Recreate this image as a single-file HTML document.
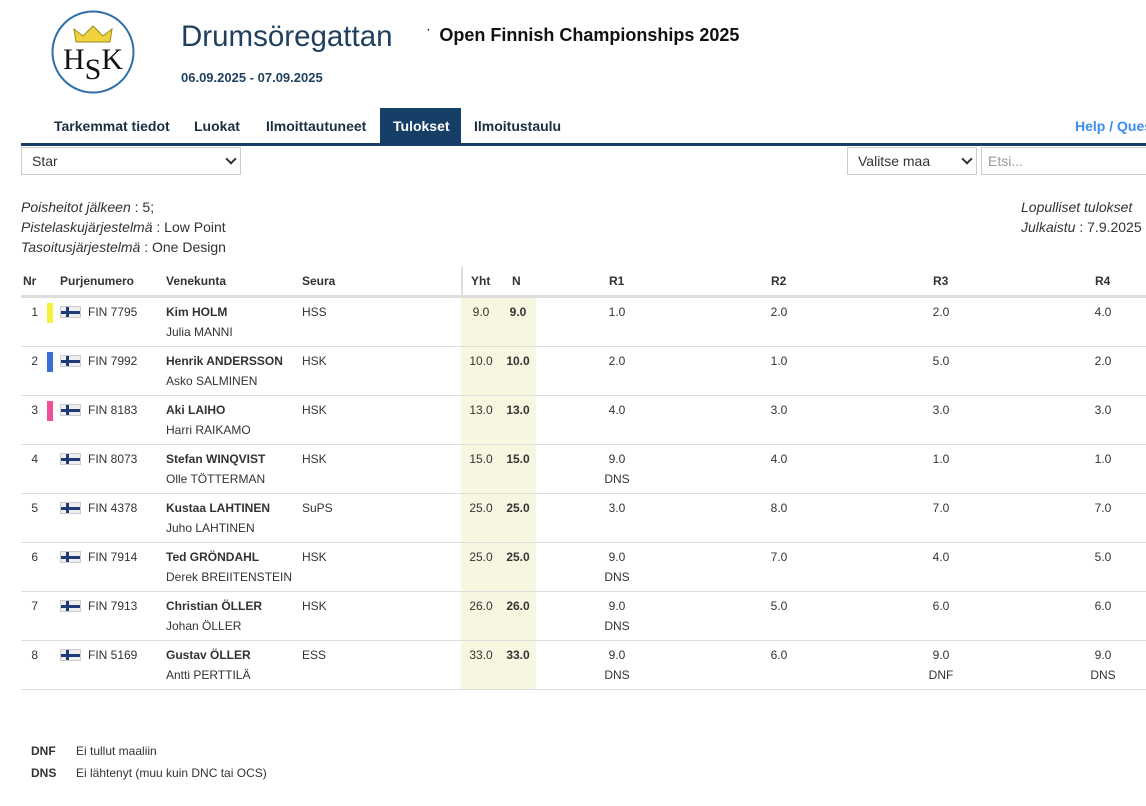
<!DOCTYPE html>
<html><head><meta charset="utf-8">
<style>
body{margin:0;width:1146px;height:806px;overflow:hidden;background:#fff;font-family:"Liberation Sans",sans-serif;color:#333;position:relative}
.a{position:absolute;white-space:nowrap}
.nav{position:absolute;top:108px;height:36px;line-height:36px;font-size:14px;font-weight:bold;color:#1a2e44;padding:0 13px;white-space:nowrap}
.sel{position:absolute;top:147px;height:28px;border:1px solid #ccc;box-sizing:border-box;font-size:14px;line-height:26px;padding-left:10px;color:#333;background:#fff}
.sel .c{position:absolute;right:5px;top:7px;width:6px;height:6px;border-right:2px solid #333;border-bottom:2px solid #333;transform:rotate(45deg)}
.info{font-size:14px;line-height:20px}
.th{font-size:12px;font-weight:bold;color:#333;top:274px}
.t{font-size:12px}
</style></head><body>
<svg class="a" style="left:50px;top:9px" width="86" height="86">
<circle cx="43" cy="43" r="40.5" fill="#fff" stroke="#2e6fa8" stroke-width="2"/>
<path d="M26 33 L24 20 L33 27 L43 17 L53 27 L62 20 L60 33 Z" fill="#f0d23c" stroke="#9a8a20" stroke-width="1"/>
<text x="43" y="60" text-anchor="middle" font-family="Liberation Serif,serif" font-size="30" fill="#111">H<tspan dy="10">S</tspan><tspan dy="-10">K</tspan></text>
</svg>
<div class="a" style="left:181px;top:20px;font-size:29.5px;color:#1e3f5e">Drumsöregattan</div>
<div class="a" style="left:181px;top:70px;font-size:13px;font-weight:bold;color:#1e3f5e">06.09.2025 - 07.09.2025</div>
<div class="a" style="left:427px;top:25px;font-size:18px;font-weight:bold;color:#111"><span style="font-size:10px;vertical-align:top;margin-right:9px">·</span>Open Finnish Championships 2025</div>

<div class="nav" style="left:41px">Tarkemmat tiedot</div>
<div class="nav" style="left:181px">Luokat</div>
<div class="nav" style="left:253px">Ilmoittautuneet</div>
<div class="nav" style="left:380px;width:55px;background:#153f66;color:#fff">Tulokset</div>
<div class="nav" style="left:461px">Ilmoitustaulu</div>
<div class="nav" style="left:1062px;color:#3a8ef0">Help / Questions</div>
<div class="a" style="left:21px;top:143px;width:1125px;height:3px;background:#153f66"></div>

<div class="sel" style="left:21px;width:220px">Star<span class="c"></span></div>
<div class="sel" style="left:847px;width:130px">Valitse maa<span class="c"></span></div>
<div class="sel" style="left:981px;width:180px;color:#999;padding-left:6px">Etsi...</div>

<div class="a info" style="left:21px;top:197px"><i>Poisheitot jälkeen</i> : 5;<br><i>Pistelaskujärjestelmä</i> : Low Point<br><i>Tasoitusjärjestelmä</i> : One Design</div>
<div class="a info" style="left:1021px;top:197px"><i>Lopulliset tulokset</i><br><i>Julkaistu</i> : 7.9.2025</div>

<div class="a" style="left:461px;top:297px;width:75px;height:392px;background:#f7f7e1"></div>
<div class="a" style="left:461px;top:267px;width:2px;height:30px;background:#ddd"></div>
<div class="a" style="left:21px;top:295px;width:1125px;height:3px;background:#ddd"></div>
<div class="a th" style="left:23px">Nr</div>
<div class="a th" style="left:60px">Purjenumero</div>
<div class="a th" style="left:166px">Venekunta</div>
<div class="a th" style="left:302px">Seura</div>
<div class="a th" style="left:471px">Yht</div>
<div class="a th" style="left:512px">N</div>
<div class="a th" style="left:609px">R1</div>
<div class="a th" style="left:771px">R2</div>
<div class="a th" style="left:933px">R3</div>
<div class="a th" style="left:1095px">R4</div>

<div id="rows"></div>

<div class="a t" style="left:31px;top:744px;font-weight:bold">DNF</div>
<div class="a t" style="left:76px;top:744px">Ei tullut maaliin</div>
<div class="a t" style="left:31px;top:766px;font-weight:bold">DNS</div>
<div class="a t" style="left:76px;top:766px">Ei lähtenyt (muu kuin DNC tai OCS)</div>

<script>
const sails=["FIN 7795","FIN 7992","FIN 8183","FIN 8073","FIN 4378","FIN 7914","FIN 7913","FIN 5169"];
const skippers=["Kim HOLM","Henrik ANDERSSON","Aki LAIHO","Stefan WINQVIST","Kustaa LAHTINEN","Ted GRÖNDAHL","Christian ÖLLER","Gustav ÖLLER"];
const crews=["Julia MANNI","Asko SALMINEN","Harri RAIKAMO","Olle TÖTTERMAN","Juho LAHTINEN","Derek BREIITENSTEIN","Johan ÖLLER","Antti PERTTILÄ"];
const clubs=["HSS","HSK","HSK","HSK","SuPS","HSK","HSK","ESS"];
const totals=["9.0","10.0","13.0","15.0","25.0","25.0","26.0","33.0"];
const nets=["9.0","10.0","13.0","15.0","25.0","25.0","26.0","33.0"];
const r1=["1.0","2.0","4.0","9.0","3.0","9.0","9.0","9.0"];
const r1c=["","","","DNS","","DNS","DNS","DNS"];
const r2=["2.0","1.0","3.0","4.0","8.0","7.0","5.0","6.0"];
const r3=["2.0","5.0","3.0","1.0","7.0","4.0","6.0","9.0"];
const r3c=["","","","","","","","DNF"];
const r4=["4.0","2.0","3.0","1.0","7.0","5.0","6.0","9.0"];
const r4c=["","","","","","","","DNS"];
const medals=["#f5f03a","#3a6fd6","#ee4f98"];
const root=document.getElementById('rows');
function add(html,left,top,extra){const d=document.createElement('div');d.className='a t';d.style.left=left+'px';d.style.top=top+'px';if(extra)d.style.cssText+=extra;d.textContent=html;root.appendChild(d);return d;}
function center(txt,cx,top,extra){const d=add(txt,cx-30,top,'width:60px;text-align:center;'+(extra||''));return d;}
sails.forEach((s,i)=>{
  const y=298+i*49;
  const r=add(String(i+1),20,y+7,'width:18px;text-align:right');
  
  
  if(i<3){const b=add('',47,y+5,'width:6px;height:20px;background:'+medals[i]);}
  const f=document.createElement('div');f.className='a';f.style.cssText='left:60px;top:'+(y+8)+'px;width:21px;height:12px;background:#eee;border:1px solid #ccc;box-sizing:border-box';
  f.innerHTML='<div style="position:absolute;left:5px;top:0;width:3px;height:10px;background:#1e3a78"></div><div style="position:absolute;left:0;top:4px;width:19px;height:3px;background:#1e3a78"></div>';
  
  
  root.appendChild(f);
  const sn=add(s,88,y+7);
  const sk=add(skippers[i],166,y+7,'font-weight:bold');
  const cr=add(crews[i],166,y+27);
  const cl=add(clubs[i],302,y+7);
  const t=center(totals[i],481,y+7);
  const n=center(nets[i],518,y+7,'font-weight:bold');
  [[r1,r1c,617],[r2,null,779],[r3,r3c,941],[r4,r4c,1103]].forEach((c,k)=>{
    const v=center(c[0][i],c[2],y+7);
    if(c[1]&&c[1][i]){const cc=center(c[1][i],c[2],y+27);}
  });
  const l=add('',21,y+48,'width:1125px;height:1px;background:#ddd');
});
</script>
</body></html>
